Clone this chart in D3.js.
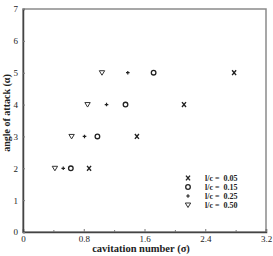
<!DOCTYPE html>
<html>
<head>
<meta charset="utf-8">
<script src="https://cdn.jsdelivr.net/npm/d3@7"></script>
<style>
  body { margin: 0; background: #fff; }
  text { font-family: "Liberation Serif", "DejaVu Serif", serif; }
</style>
</head>
<body>
<div id="chart"></div>
<script>
// --- data ---
const alpha = [2, 3, 4, 5];
const sigma005 = [0.87, 1.50, 2.12, 2.78];   // l/c = 0.05  (x)
const sigma015 = [0.63, 0.98, 1.35, 1.72];   // l/c = 0.15  (o)
const sigma025 = [0.53, 0.81, 1.10, 1.38];   // l/c = 0.25  (+)
const sigma050 = [0.42, 0.64, 0.85, 1.04];   // l/c = 0.50  (triangle)
const seriesNames = ["0.05", "0.15", "0.25", "0.50"];
const seriesShapes = ["x", "o", "+", "v"];
const xTicks = [0, 0.8, 1.6, 2.4, 3.2];
const xMinor = [0.4, 1.2, 2.0, 2.8];
const yTicks = [0, 1, 2, 3, 4, 5, 6, 7];

const width = 273, height = 256;
const margin = { left: 23, right: 7, top: 9, bottom: 24 };

const svg = d3.select("#chart").append("svg")
  .attr("width", width)
  .attr("height", height);

const x = d3.scaleLinear().domain([0, 3.2]).range([margin.left, width - margin.right]);
const y = d3.scaleLinear().domain([0, 7]).range([height - margin.bottom, margin.top]);

// frame (gray top/right)
svg.append("rect")
  .attr("x", x(0)).attr("y", y(7))
  .attr("width", x(3.2) - x(0)).attr("height", y(0) - y(7))
  .attr("fill", "none").attr("stroke", "#8a8a8a").attr("stroke-width", 1.5);

// axes
const xAxis = svg.append("g").attr("transform", `translate(0,${y(0)})`)
  .call(d3.axisBottom(x).tickValues(xTicks).tickSize(-3).tickPadding(5)
    .tickFormat(d => d === 0 ? "0" : d3.format(".1f")(d)));
svg.append("g").attr("transform", `translate(0,${y(0)})`)
  .call(d3.axisBottom(x).tickValues(xMinor).tickSize(-2).tickFormat(""))
  .call(g => g.select(".domain").remove())
  .selectAll("line").attr("stroke", "#777");
const yAxis = svg.append("g").attr("transform", `translate(${x(0)},0)`)
  .call(d3.axisLeft(y).tickValues(yTicks).tickSize(-2).tickPadding(5)
    .tickFormat(d3.format("d")));

[xAxis, yAxis].forEach(g => {
  g.select(".domain").attr("stroke", "#444").attr("stroke-width", 1.5);
  g.selectAll(".tick line").attr("stroke", "#777");
  g.selectAll("text").attr("font-size", 9).attr("fill", "#222");
});
xAxis.selectAll("text").attr("dy", "0.6em");

// axis titles
svg.append("text")
  .attr("x", 141).attr("y", 252)
  .attr("text-anchor", "middle")
  .attr("font-size", 10.5).attr("font-weight", "bold").attr("fill", "#222")
  .text("cavitation number  (σ)");
svg.append("text")
  .attr("transform", "translate(10,113) rotate(-90)")
  .attr("text-anchor", "middle")
  .attr("font-size", 10).attr("font-weight", "bold").attr("fill", "#222")
  .text("angle of attack  (α)");

// markers
function drawMarker(g, shape, cx, cy) {
  if (shape === "x") {
    g.append("path")
      .attr("d", `M${cx - 2},${cy - 2.4}L${cx + 2},${cy + 2.4}M${cx + 2},${cy - 2.4}L${cx - 2},${cy + 2.4}`)
      .attr("stroke", "#222").attr("stroke-width", 1.4);
  } else if (shape === "o") {
    g.append("circle").attr("cx", cx).attr("cy", cy).attr("r", 2.3)
      .attr("fill", "none").attr("stroke", "#222").attr("stroke-width", 1.3);
  } else if (shape === "+") {
    g.append("path")
      .attr("d", `M${cx - 1.8},${cy}L${cx + 1.8},${cy}M${cx},${cy - 1.8}L${cx},${cy + 1.8}`)
      .attr("stroke", "#222").attr("stroke-width", 1.2);
  } else {
    g.append("path")
      .attr("d", `M${cx - 2.7},${cy - 2}L${cx + 2.7},${cy - 2}L${cx},${cy + 2.5}Z`)
      .attr("fill", "none").attr("stroke", "#333").attr("stroke-width", 1);
  }
}

const allSeries = [sigma005, sigma015, sigma025, sigma050];
const marks = svg.append("g");
allSeries.forEach((s, i) => {
  s.forEach((v, j) => drawMarker(marks, seriesShapes[i], x(v), y(alpha[j])));
});

// legend
const legend = svg.append("g");
seriesNames.forEach((name, i) => {
  const ly = 178 + i * 9;
  drawMarker(legend, seriesShapes[i], 188, ly);
  legend.append("text")
    .attr("x", 205).attr("y", ly + 2.8)
    .attr("font-size", 8).attr("font-weight", "bold").attr("fill", "#222")
    .text("l/c =\u00a0 " + name);
});
</script>
</body>
</html>
